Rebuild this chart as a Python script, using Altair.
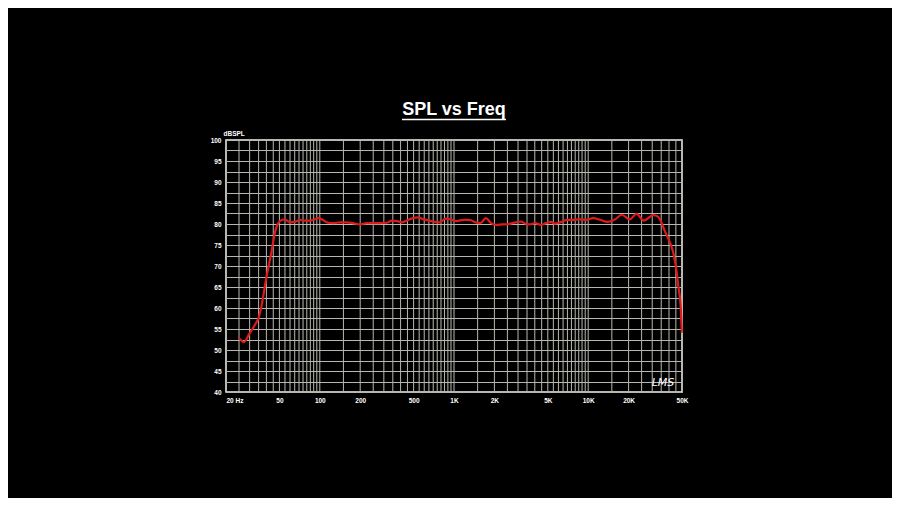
import altair as alt
import pandas as pd

# Frequency response (Hz, dB SPL)
freq = [25, 27.3, 30, 32.9, 35.3, 36.8, 39.6, 43.9, 46.2, 49.0, 52.5, 55.0, 59.9, 65.3,
        71.1, 77.3, 84.2, 91.6, 98, 105, 115, 126, 142, 158, 177, 199, 224, 251, 281,
        315, 345, 377, 412, 450, 494, 540, 594, 656, 716, 782, 867, 957, 1048, 1174,
        1311, 1438, 1576, 1725, 1890, 2070, 2270, 2550, 2880, 3150, 3350, 3680, 4030,
        4420, 4840, 5300, 5620, 6170, 6970, 7620, 8600, 9720, 10900, 12300, 13900,
        15700, 17800, 20400, 22900, 26000, 30500, 33200, 35000, 36900, 38900, 40900,
        43200, 45400, 47000, 48900, 49800]
spl = [52.8, 51.9, 54.0, 56.0, 58.0, 60.5, 66.5, 73.8, 77.8, 80.2, 81.0, 81.1, 80.4, 80.5,
       81.0, 80.8, 80.8, 81.1, 81.4, 81.0, 80.3, 80.2, 80.4, 80.4, 80.2, 79.9, 80.2, 80.2,
       80.2, 80.3, 80.8, 80.7, 80.4, 80.9, 81.4, 81.6, 81.1, 80.8, 80.5, 80.4, 81.3, 81.0,
       80.7, 81.0, 81.0, 80.4, 80.2, 81.4, 80.2, 79.8, 79.9, 80.0, 80.4, 80.6, 80.2, 79.9,
       80.2, 79.8, 80.2, 80.5, 80.1, 80.4, 81.0, 81.0, 81.1, 81.0, 81.4, 81.0, 80.5, 81.0,
       82.2, 81.1, 82.4, 80.8, 82.1, 81.7, 80.5, 78.6, 77.0, 75.4, 73.0, 69.0, 65.1, 60.3,
       54.1]

# Axis ticks / grid
x_labels = [20, 50, 100, 200, 500, 1000, 2000, 5000, 10000, 20000, 50000]
x_grid = [20, 25, 30, 35, 40, 45, 50, 55, 60, 65, 70, 75, 80, 85, 90, 95,
          100, 150, 200, 250, 300, 350, 400, 450, 500, 550, 600, 650, 700, 750, 800, 850, 900, 950,
          1000, 1500, 2000, 2500, 3000, 3500, 4000, 4500, 5000, 5500, 6000, 6500, 7000, 7500,
          8000, 8500, 9000, 9500,
          10000, 15000, 20000, 25000, 30000, 35000, 40000, 45000, 50000]
y_ticks = [40, 42.5, 45, 47.5, 50, 52.5, 55, 57.5, 60, 62.5, 65, 67.5, 70, 72.5, 75, 77.5,
           80, 82.5, 85, 87.5, 90, 92.5, 95, 97.5, 100]

title_text = "SPL vs Freq"
logo_text = "LMS"

GRID = "#b8b8b0"
FONT = "Liberation Sans"

xscale = alt.Scale(type="log", domain=[20, 50000], nice=False)
yscale = alt.Scale(domain=[40, 100], nice=False, zero=False)

xaxis = alt.Axis(values=x_labels, grid=False, ticks=False, domain=False,
                 labelExpr="datum.value == 20 ? '20  Hz' : (datum.value >= 1000 ? format(datum.value/1000, 'd') + 'K' : format(datum.value, 'd'))",
                 labelAlign={"condition": {"test": "datum.value == 20", "value": "left"},
                             "value": "center"},
                 labelColor="white", labelFont=FONT, labelFontWeight="bold",
                 labelFontSize=6.5, labelPadding=5, title=None, labelFlush=False,
                 labelOverlap=False)

df = pd.DataFrame({"f": freq, "spl": spl})
gdf = pd.DataFrame({"f": x_grid})
one = pd.DataFrame({"a": [0]})

vgrid = alt.Chart(gdf).mark_rule(color=GRID, strokeWidth=1).encode(
    x=alt.X("f:Q", scale=xscale, axis=xaxis)
)

line = alt.Chart(df).mark_line(color="#e01a1a", strokeWidth=2.2, interpolate="monotone").encode(
    x=alt.X("f:Q", scale=xscale, axis=xaxis),
    y=alt.Y("spl:Q", scale=yscale,
            axis=alt.Axis(values=y_ticks, grid=True, gridColor=GRID, gridWidth=1, gridOpacity=1,
                          ticks=False, domain=False,
                          labelExpr="datum.value % 5 == 0 ? format(datum.value, 'd') : ''",
                          labelColor="white", labelFont=FONT, labelFontWeight="bold",
                          labelFontSize=6.5, labelPadding=5,
                          title="dBSPL", titleAngle=0, titleAlign="left", titleBaseline="bottom",
                          titleX=-3, titleY=-4, titleColor="white", titleFont=FONT,
                          titleFontSize=6.5, titleFontWeight="bold")),
)

title = alt.Chart(one).mark_text(
    font=FONT, fontSize=18, fontWeight="bold", color="white", align="center", baseline="alphabetic"
).encode(x=alt.value(228), y=alt.value(-25), text=alt.value(title_text))

underline = alt.Chart(one).mark_rule(color="white", strokeWidth=1.5).encode(
    x=alt.value(176), x2=alt.value(280), y=alt.value(-20.5)
)

logo = alt.Chart(one).mark_text(
    font="DejaVu Sans", fontSize=11, fontStyle="italic", color="white", align="center",
    baseline="middle"
).encode(x=alt.value(437), y=alt.value(243), text=alt.value(logo_text))

chart = alt.layer(vgrid, line, title, underline, logo).properties(
    width=456, height=252, background="black",
    padding={"left": 218, "top": 132, "right": 210, "bottom": 106},
    autosize=alt.AutoSizeParams(type="none"),
).configure_view(stroke="#f2f2f2", strokeWidth=1.5)

chart.save("out.html", embed_options={"renderer": "svg", "actions": False})
